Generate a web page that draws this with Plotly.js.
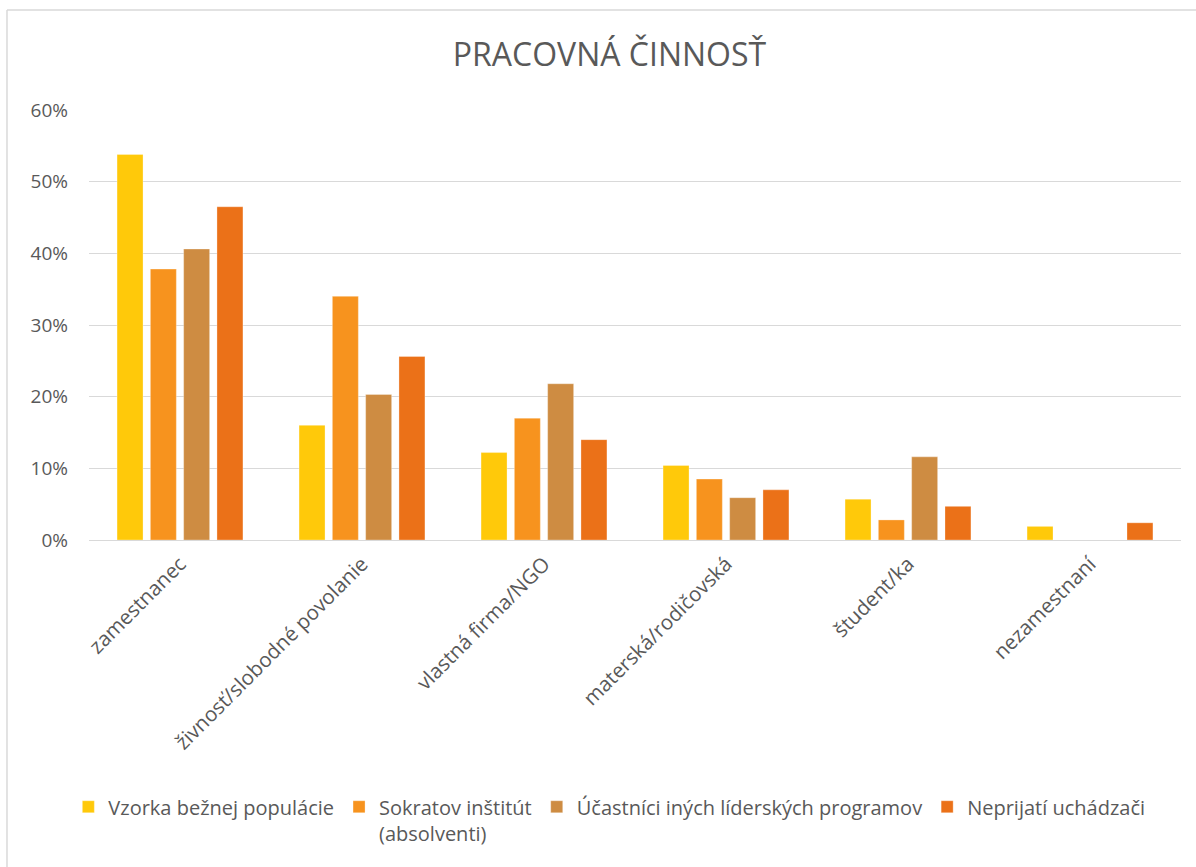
<!DOCTYPE html>
<html>
<head>
<meta charset="utf-8">
<script src="https://cdn.plot.ly/plotly-3.0.1.min.js"></script>
<style>
html, body { margin: 0; padding: 0; background: #ffffff; }
#chart { width: 1196px; height: 867px; }
</style>
</head>
<body>
<div id="chart"></div>
<script>
const categories = ["zamestnanec", "živnosť/slobodné povolanie", "vlastná firma/NGO", "materská/rodičovská", "študent/ka", "nezamestnaní"];
const seriesNames = ["Vzorka bežnej populácie", "Sokratov inštitút<br>(absolventi)", "Účastníci iných líderských programov", "Neprijatí uchádzači"];
const vzorka = [53.8, 16.0, 12.2, 10.4, 5.7, 1.9];
const sokratov = [37.8, 34.0, 17.0, 8.5, 2.8, 0];
const ucastnici = [40.6, 20.3, 21.8, 5.9, 11.6, 0];
const neprijati = [46.5, 25.6, 14.0, 7.0, 4.7, 2.4];
const colors = ["#FFC90A", "#F7931E", "#CE8C42", "#EB7118"];
const yTicks = [0, 10, 20, 30, 40, 50, 60];
const yTickLabels = ["0%", "10%", "20%", "30%", "40%", "50%", "60%"];

const seriesValues = [vzorka, sokratov, ucastnici, neprijati];
const traces = seriesValues.map((vals, i) => ({
  type: "bar",
  name: seriesNames[i],
  x: categories,
  y: vals,
  marker: { color: colors[i], line: { color: "rgba(255,255,255,0.6)", width: 0.5 } },
  hoverinfo: "x+y+name"
}));

const font = "'Open Sans', 'DejaVu Sans', sans-serif";
const layout = {
  width: 1196,
  height: 867,
  paper_bgcolor: "#ffffff",
  plot_bgcolor: "#ffffff",
  margin: { l: 89, r: 15, t: 110, b: 327 },
  font: { family: font, color: "#595959", size: 18 },
  title: {
    text: "PRACOVNÁ ČINNOSŤ",
    font: { family: font, size: 32, color: "#595959" },
    xref: "container", x: 0.5096, xanchor: "center",
    yref: "container", y: 0.9366, yanchor: "middle"
  },
  barmode: "group",
  bargap: 0.268,
  bargroupgap: 0.22,
  xaxis: {
    type: "category",
    tickangle: -45,
    tickfont: { family: font, size: 20.5, color: "#595959" },
    showgrid: false,
    showline: false,
    ticks: "",
    ticklabelstandoff: 7,
    automargin: false
  },
  yaxis: {
    range: [0, 60],
    tickmode: "array",
    tickvals: yTicks,
    ticktext: yTickLabels,
    tickfont: { family: font, size: 19, color: "#595959" },
    showgrid: true,
    gridcolor: "#d9d9d9",
    gridwidth: 1,
    zeroline: true,
    zerolinecolor: "#d9d9d9",
    zerolinewidth: 1,
    showline: false,
    ticks: "",
    ticklabelstandoff: 20,
    automargin: false
  },
  showlegend: true,
  legend: {
    orientation: "h",
    x: 0.4765, xanchor: "center",
    y: -0.575, yanchor: "top",
    font: { family: font, size: 20, color: "#595959" },
    itemwidth: 30,
    traceorder: "normal",
    valign: "top"
  },
  shapes: [
    { type: "line", xref: "paper", yref: "paper", x0: -0.0751, x1: -0.0751, y0: 1.2326, y1: -0.8, line: { color: "#d9d9d9", width: 1.5 } },
    { type: "line", xref: "paper", yref: "paper", x0: -0.0751, x1: 1.02, y0: 1.2326, y1: 1.2326, line: { color: "#d9d9d9", width: 1.5 } }
  ]
};

Plotly.newPlot("chart", traces, layout, { displayModeBar: false, staticPlot: true });
</script>
</body>
</html>
